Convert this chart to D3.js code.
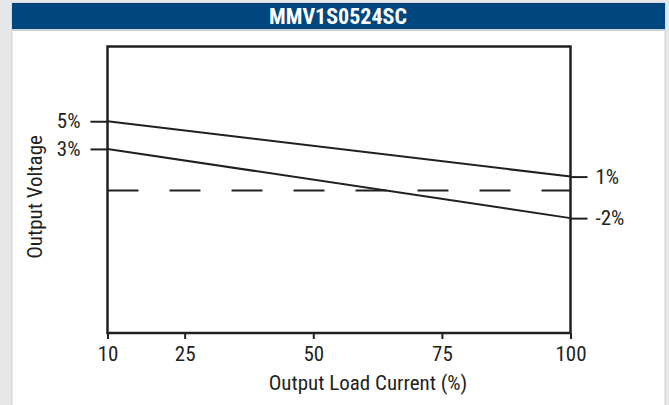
<!DOCTYPE html>
<html>
<head>
<meta charset="utf-8">
<script src="https://cdn.jsdelivr.net/npm/d3@7"></script>
<style>
  html, body { margin: 0; padding: 0; background: #e6e7e8; }
  svg { display: block; }
  text { font-family: "Liberation Sans Narrow", "Arial Narrow", "Roboto Condensed", sans-serif; fill: #231f20; }
</style>
</head>
<body>
<svg id="chart" width="669" height="405"></svg>
<script>
// ── data ──────────────────────────────────────────────────────────────────
const chartTitle = "MMV1S0524SC";
const loadCurrent = [10, 100];          // Output Load Current (%)
const upperVoltage = [5, 1];            // Output Voltage (%) – upper line
const lowerVoltage = [3, -2];           // Output Voltage (%) – lower line
const nominalVoltage = 0;               // dashed reference line
const xTicks = [10, 25, 50, 75, 100];
const leftTicks = [5, 3];
const rightTicks = [1, -2];

const svg = d3.select("#chart");
const W = +svg.attr("width");
const H = +svg.attr("height");
const ink = "#231f20";

// panel + header
svg.append("rect").attr("x", 0).attr("y", 0).attr("width", W).attr("height", H).attr("fill", "#e6e7e8");
svg.append("rect").attr("x", 12).attr("y", 3).attr("width", 653).attr("height", H).attr("fill", "#fff")
  .attr("stroke", "#cfd0d2").attr("stroke-width", 1);
svg.append("rect").attr("x", 12).attr("y", 3).attr("width", 653).attr("height", 26).attr("fill", "#00467f");
svg.append("rect").attr("x", 12).attr("y", 29).attr("width", 653).attr("height", 2).attr("fill", "#cfd0d2");
svg.append("text")
  .attr("x", 338).attr("y", 24)
  .attr("text-anchor", "middle")
  .style("font-size", "22px").style("font-weight", "bold").style("fill", "#fff")
  .text(chartTitle);

// scales
const x = d3.scaleLinear().domain([10, 100]).range([107.5, 570.5]);
const y = d3.scaleLinear().domain([-10.3, 10.4]).range([333, 46.5]);

// axes (ticks only, the frame is drawn separately)
const fmtPct = d => d + "%";

const gx = svg.append("g").attr("transform", `translate(0,${y.range()[0]})`)
  .call(d3.axisBottom(x).tickValues(xTicks).tickSizeInner(6).tickSizeOuter(0).tickPadding(7));
const gl = svg.append("g").attr("transform", `translate(${x.range()[0]},0)`)
  .call(d3.axisLeft(y).tickValues(leftTicks).tickFormat(fmtPct).tickSizeInner(17).tickSizeOuter(0).tickPadding(10));
const gr = svg.append("g").attr("transform", `translate(${x.range()[1]},0)`)
  .call(d3.axisRight(y).tickValues(rightTicks).tickFormat(fmtPct).tickSizeInner(17).tickSizeOuter(0).tickPadding(8));

[gx, gl, gr].forEach(g => {
  g.select(".domain").remove();
  g.selectAll("line").attr("stroke", ink).attr("stroke-width", 2);
  g.selectAll("text").style("font-size", "21px").style("fill", ink).attr("font-family", null);
});

// dashed nominal line
svg.append("line")
  .attr("x1", x(10)).attr("x2", x(100))
  .attr("y1", y(nominalVoltage)).attr("y2", y(nominalVoltage))
  .attr("stroke", ink).attr("stroke-width", 2)
  .attr("stroke-dasharray", "31,31");

// regulation lines
const line = d3.line().x(d => x(d[0])).y(d => y(d[1]));
[upperVoltage, lowerVoltage].forEach(vals => {
  svg.append("path")
    .datum(d3.zip(loadCurrent, vals))
    .attr("d", line)
    .attr("fill", "none")
    .attr("stroke", ink)
    .attr("stroke-width", 2);
});

// plot frame
svg.append("rect")
  .attr("x", x.range()[0]).attr("y", y.range()[1])
  .attr("width", x.range()[1] - x.range()[0])
  .attr("height", y.range()[0] - y.range()[1])
  .attr("fill", "none").attr("stroke", ink).attr("stroke-width", 2.5);

// axis titles
svg.append("text")
  .attr("x", 368).attr("y", 390)
  .attr("text-anchor", "middle")
  .style("font-size", "21px")
  .text("Output Load Current (%)");

svg.append("text")
  .attr("transform", "translate(42,197) rotate(-90)")
  .attr("text-anchor", "middle")
  .style("font-size", "21px")
  .text("Output Voltage");
</script>
</body>
</html>
